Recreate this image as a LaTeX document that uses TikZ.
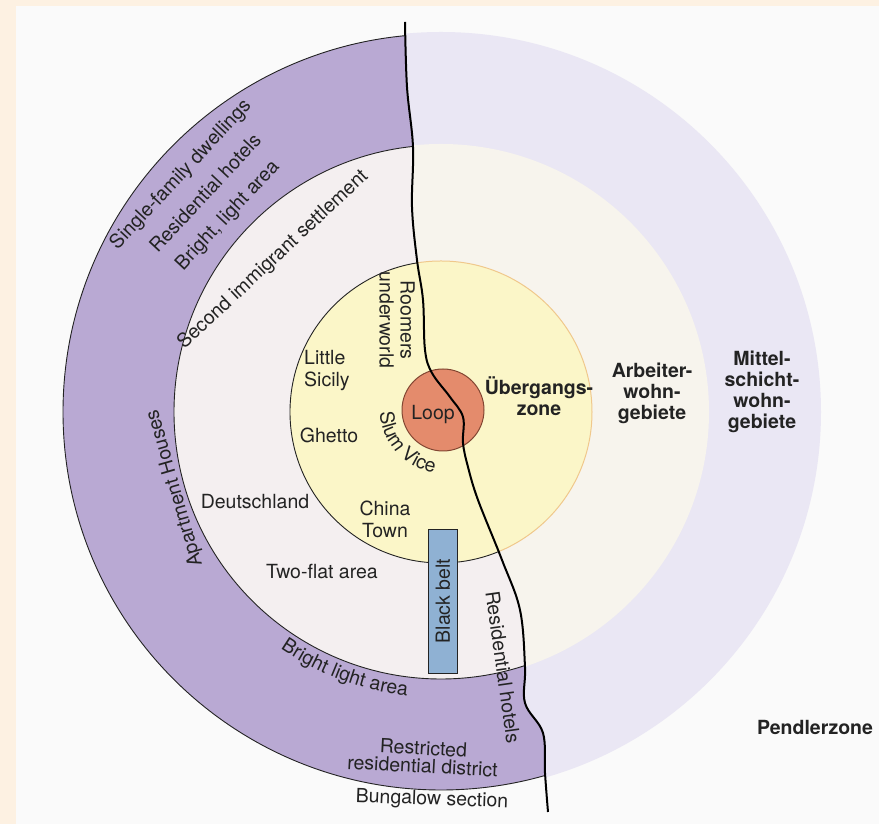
\documentclass[tikz,border=0pt]{standalone}
\usepackage{fontspec}
\setmainfont{TeX Gyre Heros}
\usetikzlibrary{positioning,decorations.text}
\definecolor{ink}{RGB}{35,35,35}
\definecolor{paper}{RGB}{250,250,250}
\definecolor{margin}{RGB}{253,241,226}
\definecolor{purp}{RGB}{185,169,211}
\definecolor{pale}{RGB}{244,239,240}
\definecolor{lav}{RGB}{234,231,244}
\definecolor{cream}{RGB}{247,244,237}
\definecolor{yel}{RGB}{251,246,200}
\definecolor{yeledge}{RGB}{240,200,140}
\definecolor{loopc}{RGB}{228,139,108}
\definecolor{loopedge}{RGB}{130,70,50}
\definecolor{belt}{RGB}{143,177,211}
\tikzset{
  lbl/.style={font=\fontsize{19.5}{21}\selectfont,text=ink,inner sep=0pt,align=center},
  blbl/.style={lbl,font=\fontsize{19.5}{21}\selectfont\bfseries},
  ring/.style={draw=ink,line width=0.9pt},
  cityline/.style={insert path={plot[smooth,tension=0.6] coordinates {(405,802) (407,737)
    (413,677) (412,617) (417,564) (423,524) (425,474) (432,451) (450,427) (463,407)
    (463,381) (468,357) (478,324) (502,264) (520,214) (525,157) (525,121) (543,91)
    (545,51) (548,12)}}},
  westside/.style={cityline,insert path={-- (548,0) -- (0,0) -- (0,824) -- (405,824) -- cycle}},
  eastside/.style={cityline,insert path={-- (548,0) -- (879,0) -- (879,824) -- (405,824) -- cycle}},
}

\begin{document}
\begin{tikzpicture}[x=1pt,y=1pt]
\useasboundingbox (0,0) rectangle (879,824);
\fill[margin] (0,0) rectangle (879,824);
\fill[paper] (16,0) rectangle (879,818);
\coordinate (C) at (441,412);

% ---- left half : city ----
\begin{scope}
\clip[westside];
\fill[purp] (C) circle[radius=378];
\fill[pale] (C) circle[radius=267];
\draw[ring] (C) circle[radius=378];
\draw[ring] (C) circle[radius=267];
\end{scope}

% ---- right half : model ----
\begin{scope}
\clip[eastside];
\fill[lav] (C) circle[radius=380];
\fill[cream] (C) circle[radius=268];
\end{scope}

% ---- transition zone ----
\fill[yel] (C) circle[radius=151];
\begin{scope}
\clip[westside];
\draw[ring] (C) circle[radius=151];
\end{scope}
\begin{scope}
\clip[eastside];
\draw[yeledge,line width=1pt] (C) circle[radius=151];
\end{scope}

% ---- loop and black belt ----
\node[circle,fill=loopc,draw=loopedge,line width=1pt,minimum size=82pt,inner sep=0pt] (loop) at (443,414) {};
\node[lbl] (looptxt) at (433,409) {Loop};
\node[draw=ink,fill=belt,line width=0.8pt,minimum width=29pt,minimum height=144pt,inner sep=0pt] (belt) at (443,223) {};
\node[lbl,rotate=90] (belttxt) at (belt.center) {Black belt};

% ---- divider ----
\draw[black,line width=2pt,cityline];

% ---- model labels ----
\node[blbl] (uebergang) at (539,428) {Übergangs-\\zone};
\node[blbl] (arbeiter) at (652,431) {Arbeiter-\\wohn-\\gebiete};
\node[blbl] (mittel) at (762,432) {Mittel-\\schicht-\\wohn-\\gebiete};
\node[blbl] (pendler) at (815,97) {Pendlerzone};

% ---- city labels ----
\node[lbl,align=left,anchor=west,font=\fontsize{19.5}{22}\selectfont] (sicily) at (304,453) {Little\\Sicily};
\node[lbl] (ghetto) at (329,389) {Ghetto};
\node[lbl,font=\fontsize{19.5}{22}\selectfont] (china) at (385,305) {China\\Town};
\node[lbl] (deutsch) at (255,322) {Deutschland};
\node[lbl] (twoflat) at (322,252) {Two-flat area};
\node[lbl,rotate=-90] (roomers) at (397,504) {Roomers\\underworld};
\node[lbl,rotate=-82] (reshotels) at (503,157) {Residential hotels};
\node[lbl,font=\fontsize{19.5}{18}\selectfont,rotate=-3] (restricted) at (423,67) {Restricted\\residential district};
\node[lbl,rotate=-2] (bungalow) at (432,24) {Bungalow section};
\node[lbl,rotate=47] (singlefam) at (181,649) {Single-family dwellings};
\node[lbl,rotate=47] (resnorth) at (205,631) {Residential hotels};
\node[lbl,rotate=47] (brightnorth) at (228,608) {Bright, light area};
\node[lbl,rotate=43] (second) at (273,564) {Second immigrant settlement};
\node[lbl,rotate=106] (apartment) at (175,336) {Apartment Houses};
\path[decorate,decoration={text along path,text align=center,
  text={|\fontsize{19.5}{21}\selectfont\color{ink}|Slum Vice}}]
  (loop.center) ++(172:63) arc[start angle=172,end angle=272,radius=63];
\path[decorate,decoration={text along path,text align=center,
  text={|\fontsize{19.5}{21}\selectfont\color{ink}|Bright light area}}]
  (C) ++(231:286) arc[start angle=231,end angle=268,radius=286];
\end{tikzpicture}
\end{document}
